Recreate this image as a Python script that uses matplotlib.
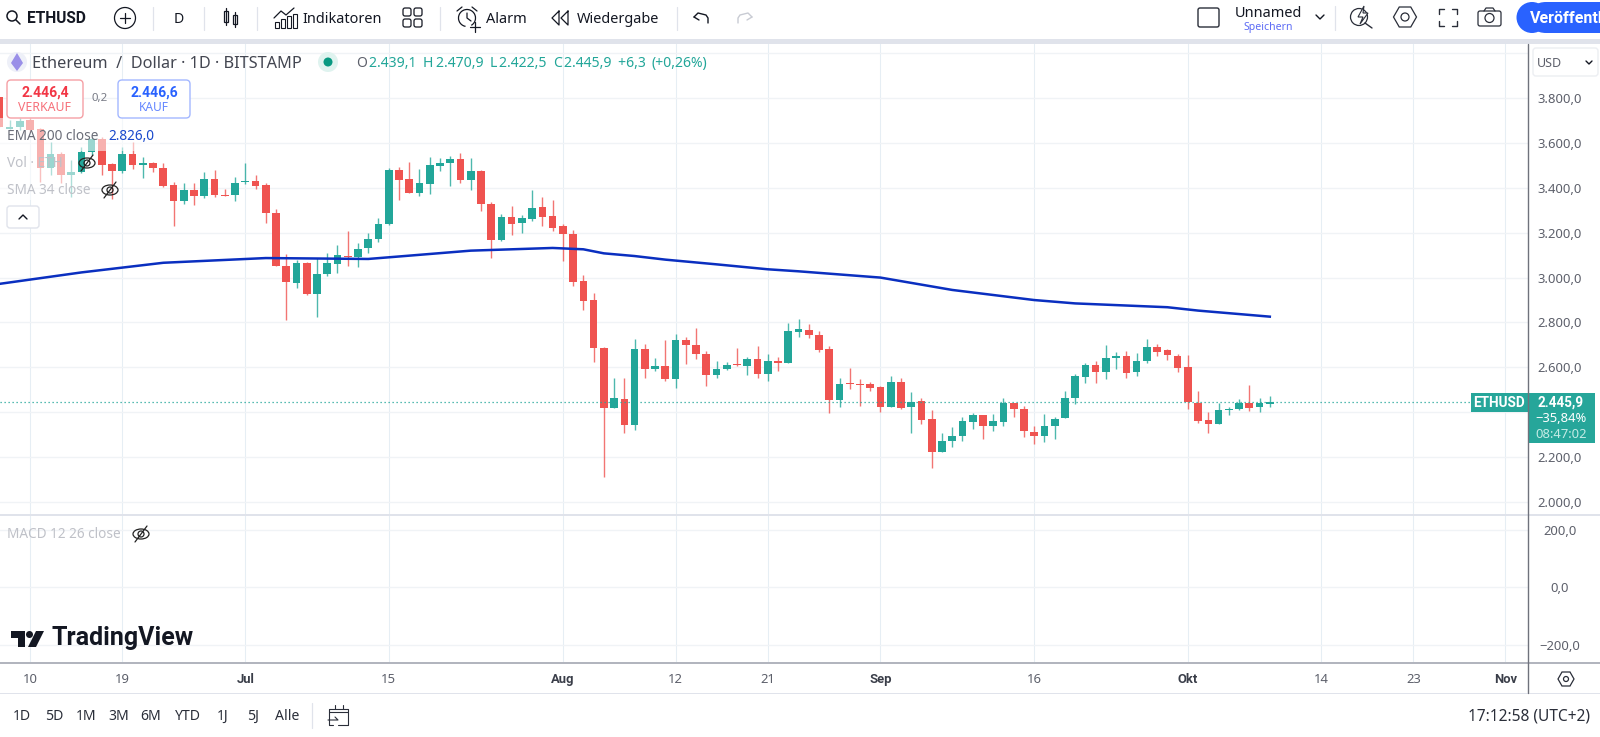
import matplotlib
matplotlib.use("Agg")
import matplotlib.pyplot as plt
from matplotlib.patches import Rectangle, FancyBboxPatch, Circle, Polygon, Ellipse, Arc

plt.rcParams['font.family'] = ['Noto Sans', 'DejaVu Sans']

# tage seit 1. juli, erste kerze ist 7. juni
first_day = -24
opens = [3806, 3663, 3669, 3700, 3660, 3488, 3552, 3457, 3469, 3558, 3616, 3505, 3475, 3551, 3503,
         3512, 3488, 3412, 3343, 3389, 3362, 3439, 3367, 3368, 3427, 3430, 3412, 3288, 3052, 2975,
         3065, 2926, 3016, 3059, 3096, 3093, 3130, 3170, 3239, 3479, 3439, 3378, 3418, 3499, 3510,
         3527, 3435, 3476, 3328, 3168, 3268, 3243, 3263, 3316, 3273, 3228, 3196, 2983, 2900, 2685,
         2421, 2459, 2343, 2680, 2594, 2608, 2550, 2721, 2700, 2660, 2568, 2591, 2615, 2608, 2636,
         2572, 2628, 2620, 2759, 2768, 2743, 2680, 2455, 2529, 2526, 2525, 2513, 2424, 2535, 2424,
         2450, 2369, 2223, 2271, 2296, 2358, 2386, 2339, 2358, 2441, 2416, 2311, 2296, 2339, 2376,
         2462, 2559, 2611, 2579, 2643, 2651, 2579, 2630, 2691, 2676, 2651, 2600, 2443, 2364, 2348,
         2412, 2415, 2441, 2424, 2439.1]
closes = [3669, 3669, 3696, 3657, 3487, 3552, 3457, 3472, 3559, 3616, 3502, 3475, 3551, 3503, 3510,
          3487, 3410, 3343, 3389, 3362, 3439, 3366, 3364, 3423, 3430, 3410, 3286, 3053, 2979, 3065,
          2926, 3016, 3065, 3099, 3092, 3127, 3170, 3239, 3479, 3435, 3378, 3420, 3500, 3512, 3527,
          3435, 3476, 3328, 3168, 3268, 3239, 3267, 3312, 3271, 3222, 3194, 2982, 2894, 2688, 2421,
          2464, 2343, 2680, 2594, 2608, 2550, 2721, 2698, 2660, 2568, 2593, 2611, 2611, 2637, 2572,
          2627, 2620, 2761, 2769, 2743, 2679, 2455, 2528, 2526, 2522, 2510, 2424, 2535, 2418, 2447,
          2367, 2223, 2271, 2296, 2360, 2386, 2339, 2360, 2441, 2416, 2315, 2296, 2339, 2372, 2462,
          2560, 2611, 2579, 2643, 2651, 2577, 2627, 2691, 2670, 2655, 2599, 2447, 2363, 2348, 2412,
          2415, 2441, 2421, 2441, 2445.9]
highs = [3806, 3702, 3709, 3710, 3665, 3606, 3561, 3523, 3583, 3625, 3628, 3512, 3580, 3606, 3539,
         3515, 3512, 3427, 3420, 3420, 3472, 3479, 3395, 3450, 3509, 3457, 3420, 3304, 3104, 3078,
         3068, 3086, 3108, 3145, 3209, 3153, 3197, 3264, 3486, 3494, 3513, 3484, 3536, 3531, 3542,
         3556, 3531, 3479, 3338, 3282, 3320, 3279, 3390, 3360, 3346, 3239, 3212, 3012, 2930, 2692,
         2551, 2553, 2725, 2703, 2640, 2722, 2749, 2737, 2777, 2673, 2628, 2623, 2685, 2645, 2697,
         2660, 2645, 2796, 2816, 2793, 2761, 2697, 2553, 2597, 2548, 2533, 2517, 2562, 2553, 2489,
         2465, 2410, 2308, 2333, 2381, 2398, 2388, 2392, 2465, 2443, 2428, 2339, 2392, 2378, 2496,
         2571, 2620, 2628, 2700, 2669, 2673, 2663, 2725, 2704, 2680, 2660, 2655, 2496, 2400, 2443,
         2425, 2458, 2522, 2465, 2470.9]
lows = [3669, 3660, 3657, 3650, 3427, 3457, 3420, 3360, 3464, 3546, 3457, 3350, 3464, 3482, 3442,
        3469, 3402, 3231, 3328, 3323, 3356, 3360, 3364, 3341, 3417, 3395, 3245, 3053, 2811, 2955,
        2922, 2823, 3007, 3022, 3053, 3046, 3111, 3160, 3236, 3346, 3375, 3365, 3374, 3476, 3410,
        3423, 3390, 3298, 3086, 3165, 3190, 3197, 3254, 3230, 3209, 3075, 2963, 2856, 2626, 2113,
        2418, 2309, 2321, 2554, 2583, 2541, 2510, 2614, 2639, 2517, 2554, 2588, 2608, 2566, 2553,
        2538, 2585, 2618, 2734, 2732, 2670, 2398, 2422, 2505, 2430, 2495, 2403, 2422, 2413, 2309,
        2348, 2153, 2222, 2247, 2274, 2326, 2281, 2318, 2339, 2378, 2291, 2259, 2266, 2281, 2375,
        2438, 2532, 2532, 2547, 2594, 2554, 2563, 2618, 2651, 2633, 2578, 2415, 2354, 2309, 2346,
        2389, 2410, 2406, 2401, 2422.5]

ema_days = [-24, -16, -8, 2, 12, 15, 22, 30, 33, 35, 38, 41, 46, 51, 54, 62, 69, 77, 81, 90, 93, 100]
ema_values = [2972, 3023, 3066, 3087, 3083, 3094, 3120, 3132, 3126, 3108, 3096, 3080, 3059, 3037,
              3028, 3000, 2945, 2900, 2885, 2868, 2853, 2826]

last_price = 2445.9

# 2.400,0 und 4.000,0 sind im original verdeckt, nur das gitter bleibt
price_ticks = [2000, 2200, 2400, 2600, 2800, 3000, 3200, 3400, 3600, 3800, 4000]
price_labels = ['2.000,0', '2.200,0', '', '2.600,0', '2.800,0', '3.000,0', '3.200,0',
                '3.400,0', '3.600,0', '3.800,0', '']
macd_ticks = [-200, 0, 200]
macd_labels = ['\u2212200,0', '0,0', '200,0']
date_ticks = [-21, -12, 0, 14, 31, 42, 51, 62, 77, 92, 105, 114, 123]
date_labels = ['10', '19', 'Jul', '15', 'Aug', '12', '21', 'Sep', '16', 'Okt', '14', '23', 'Nov']
range_labels = ['1D', '5D', '1M', '3M', '6M', 'YTD', '1J', '5J', 'Alle']
range_x = [22, 54, 86, 119, 151, 188, 223, 253, 287]

UP = '#22a699'
DOWN = '#ef5350'
GRID_H = '#f0f3f6'
GRID_V = '#e6eef4'
AXIS_TXT = '#5d606b'
DARK = '#131722'
BOLD_FONT = ['Roboto', 'DejaVu Sans']
W, H = 1600, 737

fig = plt.figure(figsize=(W / 100, H / 100), dpi=100, facecolor='white')


def pane(top, bottom):
    return fig.add_axes([0, 1 - bottom / H, 1528 / W, (bottom - top) / H])


def style_pane(ax, ticks, labels):
    ax.set_xlim(-23.94, 125.2)
    ax.set_yticks(ticks)
    ax.set_yticklabels(labels, ha='center', va='center_baseline', color=AXIS_TXT, fontsize=9.4)
    ax.yaxis.tick_right()
    ax.tick_params(axis='y', length=0, pad=23)
    ax.set_xticks(date_ticks)
    ax.grid(axis='y', color=GRID_H, lw=1.0)
    ax.grid(axis='x', color=GRID_V, lw=0.75)
    ax.set_axisbelow(True)
    for s in ax.spines.values():
        s.set_visible(False)


# kurs
ax = pane(44, 515)
ax.set_ylim(1942.5, 4040.5)
style_pane(ax, price_ticks, price_labels)
ax.tick_params(axis='x', length=0, labelbottom=False)

days = list(range(first_day, first_day + len(opens)))
colors = [UP if c >= o else DOWN for o, c in zip(opens, closes)]
bottoms = [min(o, c) for o, c in zip(opens, closes)]
heights = [max(abs(c - o), 3) for o, c in zip(opens, closes)]
ax.vlines(days, lows, highs, colors=colors, lw=1.0, alpha=0.8, zorder=2)
ax.bar(days, heights, bottom=bottoms, width=0.75, color=colors, lw=0, zorder=3)
ax.plot(ema_days, ema_values, color='#0a2fc0', lw=1.8, zorder=4)
ax.axhline(last_price, color=UP, lw=0.9, ls=(0, (1, 2.2)), zorder=5)

# macd, leer
ax2 = pane(515, 662.5)
ax2.set_ylim(-261, 252)
style_pane(ax2, macd_ticks, macd_labels)
ax2.set_xticklabels(date_labels, fontsize=9.4, color=AXIS_TXT, va='center')
ax2.tick_params(axis='x', length=0, pad=12)
for lab, name in zip(ax2.get_xticklabels(), date_labels):
    if not name.isdigit():
        lab.set_family(BOLD_FONT)
        lab.set_fontweight('bold')
        lab.set_color('#3a3e49')

# alles drumherum in pixeln
ui = fig.add_axes([0, 0, 1, 1], zorder=5)
ui.set_xlim(0, W)
ui.set_ylim(H, 0)
ui.axis('off')


def txt(x, y, s, size=13, color=DARK, ha='left', weight='normal'):
    t = ui.text(x, y + 1.5, s, fontsize=size * 0.72, color=color, ha=ha, va='center', fontweight=weight)
    if weight == 'bold':
        t.set_family(BOLD_FONT)
    return t


def line(xs, ys, color='#131722', lw=1.0):
    ui.plot(xs, ys, color=color, lw=lw, solid_capstyle='round')


def rect(x0, y0, x1, y1, color, alpha=1.0):
    ui.add_patch(Rectangle((x0, y0), x1 - x0, y1 - y0, fc=color, ec='none', alpha=alpha))


def box(x0, y0, x1, y1, ec, fc='white', r=4, lw=1.0):
    ui.add_patch(FancyBboxPatch((x0 + r, y0 + r), x1 - x0 - 2 * r, y1 - y0 - 2 * r,
                                boxstyle='round,pad=%d,rounding_size=%d' % (r, r), fc=fc, ec=ec, lw=lw))


def hexagon(x, y, rx=11, ry=10, ir=4):
    ui.add_patch(Polygon([(x - rx, y), (x - rx / 2, y - ry), (x + rx / 2, y - ry), (x + rx, y),
                          (x + rx / 2, y + ry), (x - rx / 2, y + ry)], fc='none', ec='#2a2e39', lw=0.9))
    ui.add_patch(Circle((x, y), ir, fc='none', ec='#2a2e39', lw=0.9))


def eye_off(x, y):
    ui.add_patch(Ellipse((x, y), 16, 10, fc='none', ec='#222222', lw=0.9))
    ui.add_patch(Circle((x, y), 3, fc='none', ec='#222222', lw=0.9))
    line([x - 6, x + 6], [y + 8, y - 8], '#222222', 0.9)


# schleier ueber den kerzen links oben
rect(0, 118, 160, 151, 'white', 0.55)
rect(0, 151, 75, 200, 'white', 0.55)

# werkzeugleiste
rect(0, 0, W, 39, 'white')
rect(0, 39, W, 44, '#e0e3eb')
ui.add_patch(Circle((12, 16), 5, fc='none', ec=DARK, lw=1.1))
line([16, 20], [20, 24], DARK, 1.1)
txt(27, 17, 'ETHUSD', 15.5, weight='bold')
ui.add_patch(Circle((125, 18), 10.5, fc='none', ec=DARK, lw=0.9))
line([120, 130], [18, 18], DARK, 0.9)
line([125, 125], [13, 23], DARK, 0.9)
txt(179, 18, 'D', 14, ha='center')
for sx in [153, 204, 257, 440, 677]:
    line([sx, sx], [7, 30], '#e0e3eb', 0.9)
# kerzen symbol
for cx, t, b in [(226, 11, 22), (235, 15, 24)]:
    ui.add_patch(Rectangle((cx - 2, t), 4, b - t, fc='none', ec=DARK, lw=0.9))
    line([cx, cx], [t - 3, b + 3], DARK, 0.9)
# indikatoren
for bx, bt in [(275, 22), (281, 19), (287, 16), (293, 14)]:
    ui.add_patch(Rectangle((bx, bt), 4, 28 - bt, fc='none', ec=DARK, lw=0.8))
line([274, 281, 286, 294], [18, 11, 15, 8], DARK, 0.9)
txt(302, 18, 'Indikatoren', 14.5)
for qx, qy in [(407, 12), (418, 12), (407, 23), (418, 23)]:
    ui.add_patch(FancyBboxPatch((qx - 2.5, qy - 2.5), 5, 5, boxstyle='round,pad=1.5,rounding_size=2',
                                fc='none', ec=DARK, lw=0.9))
# wecker
ui.add_patch(Arc((467, 18), 17, 17, theta1=100, theta2=60, ec=DARK, lw=0.9))
line([467, 467, 471], [13, 18, 21], DARK, 0.9)
line([457, 462], [11, 7], DARK, 0.9)
line([472, 477], [7, 11], DARK, 0.9)
line([470, 480], [27, 27], DARK, 0.9)
line([475, 475], [22, 32], DARK, 0.9)
txt(486, 18, 'Alarm', 14.5)
line([559, 552, 559, 559], [11, 18, 25, 11], DARK, 0.9)
line([568, 561, 568, 568], [11, 18, 25, 11], DARK, 0.9)
txt(577, 18, 'Wiedergabe', 14.5)
line([694, 698, 706, 708, 708], [17, 13, 15, 18, 23], DARK, 1.0)
line([694, 699], [17, 20], DARK, 1.0)
line([752, 748, 740, 738, 738], [17, 13, 15, 18, 23], '#c8cbd3', 1.0)
line([752, 747], [17, 20], '#c8cbd3', 1.0)

box(1198, 8, 1219, 27, '#2a2e39', r=2)
txt(1268, 12, 'Unnamed', 14.5, ha='center')
txt(1268, 26, 'Speichern', 10.5, ha='center', color='#5c6bf5')
line([1316, 1320, 1324], [15, 19, 15], DARK, 1.0)
line([1335, 1335], [6, 30], '#e0e3eb', 0.9)
ui.add_patch(Circle((1359, 17), 8.5, fc='none', ec='#2a2e39', lw=0.9))
line([1365, 1372], [23, 28], '#2a2e39', 1.0)
ui.add_patch(Polygon([(1364, 6), (1358, 17), (1363, 17), (1360, 24), (1368, 13), (1363, 13)],
                     fc='white', ec='#2a2e39', lw=0.8))
hexagon(1405, 17, 11.5, 10, 4)
for fx, fy, dx, dy in [(1439, 9, 1, 1), (1457, 9, -1, 1), (1439, 26, 1, -1), (1457, 26, -1, -1)]:
    line([fx + 5 * dx, fx, fx], [fy, fy, fy + 5 * dy], '#2a2e39', 1.0)
ui.add_patch(FancyBboxPatch((1479, 12), 21, 13, boxstyle='round,pad=1,rounding_size=2', fc='none',
                            ec='#2a2e39', lw=0.9))
line([1484, 1486, 1493, 1495], [11, 8, 8, 11], '#2a2e39', 0.9)
ui.add_patch(Circle((1489.5, 18), 4.5, fc='none', ec='#2a2e39', lw=0.9))
ui.add_patch(FancyBboxPatch((1531, 2), 100, 31, boxstyle='round,pad=0,rounding_size=15', fc='#2962ff',
                            ec='none', clip_on=True))
ui.add_patch(Circle((1532, 17.5), 15.5, fc='#2962ff', ec='none'))
txt(1530, 17, 'Veröffentl', 16, color='white', weight='bold')

# kopfzeile des charts
ui.add_patch(Circle((17, 62), 10, fc='#eef0f8', ec='none'))
ui.add_patch(Polygon([(17, 53), (23, 63), (17, 71), (11, 63)], fc='#9a8fe8', ec='none'))
txt(32, 62, 'Ethereum  /  Dollar · 1D · BITSTAMP', 16.3, color='#434651')
ui.add_patch(Circle((328, 62), 10, fc='#dff3ef', ec='none'))
ui.add_patch(Circle((328, 62), 4.5, fc='#089981', ec='none'))
px = 356
rend = fig.canvas.get_renderer()
for s, col in [('O', '#5d606b'), ('2.439,1 ', UP), ('H', UP), ('2.470,9 ', UP), ('L', UP),
               ('2.422,5 ', UP), ('C', UP), ('2.445,9 ', UP), ('+6,3 ', UP), ('(+0,26%)', UP)]:
    t = txt(px, 62, s, 14, color=col)
    px += ui.transData.inverted().transform(t.get_window_extent(rend))[1][0] - px + 2.5

box(7, 80, 83, 118, '#f5a0a5', r=4)
txt(45, 91, '2.446,4', 14, color='#f23645', ha='center', weight='bold')
txt(45, 106, 'VERKAUF', 12.3, color='#f7707a', ha='center')
txt(100, 97, '0,2', 11.5, color='#787b86', ha='center')
box(118, 80, 190, 118, '#a4b8ff', r=4)
txt(154, 91, '2.446,6', 14, color='#2962ff', ha='center', weight='bold')
txt(154, 106, 'KAUF', 12, color='#6688ff', ha='center')

txt(7, 135, 'EMA 200 close', 13.6, color='#6a6d78')
txt(108, 135, '2.826,0', 13.6, color='#1848cc')
txt(7, 162, 'Vol · ETH', 13.6, color='#bfc1c8')
eye_off(87, 163)
txt(7, 189, 'SMA 34 close', 13.6, color='#bfc1c8')
eye_off(110, 190)
box(7, 206, 39, 228, '#e0e3eb', r=3)
line([19, 23, 27], [219, 215, 219], DARK, 1.0)
txt(7, 533, 'MACD 12 26 close', 13.6, color='#bfc1c8')
eye_off(141, 534)

# logo
ui.add_patch(Polygon([(11, 631), (25, 631), (25, 647), (18, 647), (18, 638), (11, 638)], fc=DARK, ec='none'))
ui.add_patch(Circle((29.5, 634.5), 3.5, fc=DARK, ec='none'))
ui.add_patch(Polygon([(36, 631), (44, 631), (36, 647), (28, 647)], fc=DARK, ec='none'))
txt(52, 637, 'TradingView', 25, weight='bold')

# preisachse
line([1528, 1528], [44, 693], '#6f727c', 1.0)
rect(0, 514, W, 516, '#e0e3eb')
rect(0, 662, W, 664, '#b2b5be')
rect(0, 692.5, W, 693.5, '#e0e3eb')
box(1533, 48, 1598, 76, '#eceef2', r=3)
txt(1537, 62, 'USD', 12.5, color='#5d606b')
line([1586, 1589, 1592], [61, 64, 61], DARK, 1.0)

rect(1471, 393, 1528, 412, '#26a69a')
txt(1499.5, 401.5, 'ETHUSD', 13.5, color='white', ha='center', weight='bold')
rect(1529, 393, 1595, 443, '#26a69a')
txt(1561, 401, '2.445,9', 13.5, color='white', ha='center', weight='bold')
txt(1561, 417, '\u221235,84%', 13, color='white', ha='center')
txt(1561, 433, '08:47:02', 13, color='#c4ebe5', ha='center')
hexagon(1566, 679, 8, 7, 2.5)

# untere leiste
for s, rx in zip(range_labels, range_x):
    txt(rx, 715, s, 14, color='#2a2e39', ha='center')
line([312, 312], [703, 728], '#e0e3eb', 0.9)
line([333, 329, 329, 348, 348, 338], [725, 725, 709, 709, 725, 725], '#2a2e39', 0.8)
line([329, 348], [712, 712], '#2a2e39', 0.8)
line([328, 338, 335], [720, 720, 717], '#2a2e39', 0.8)
line([335, 335], [705, 709], '#2a2e39', 0.8)
line([343, 343], [705, 709], '#2a2e39', 0.8)
txt(1590, 715, '17:12:58 (UTC+2)', 15.5, color='#2a2e39', ha='right')

fig.savefig('out.png', dpi=100, facecolor='white')
